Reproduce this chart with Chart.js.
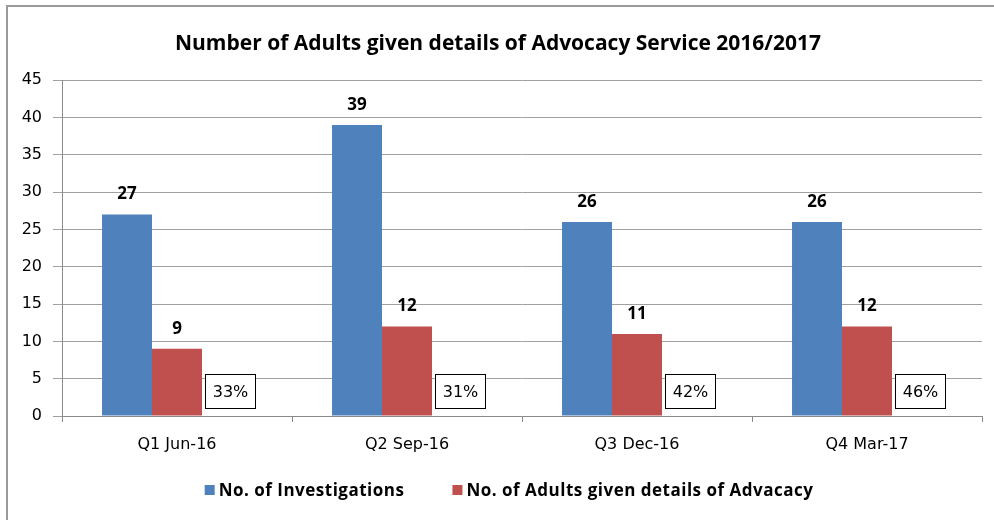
<!DOCTYPE html>
<html lang="en">
<head>
    <meta charset="UTF-8">
    <title>Advocacy Service 2016/2017</title>
    <script src="https://cdn.jsdelivr.net/npm/chart.js"></script>
    <style>
        html, body { margin: 0; padding: 0; background: #fff; overflow: hidden; }
        .wrap { position: relative; width: 994px; height: 520px; overflow: hidden; }
        .frame {
            position: absolute; left: 6px; top: 5px; width: 1100px; height: 700px;
            border: 2px solid #9a9a9a; box-sizing: border-box;
        }
        canvas { position: absolute; left: 0; top: 0; }
    </style>
</head>
<body>
    <div class="wrap">
        <div class="frame"></div>
        <canvas id="advocacyChart" width="994" height="520"></canvas>
    </div>

    <script>
        const categories = ["Q1 Jun-16", "Q2 Sep-16", "Q3 Dec-16", "Q4 Mar-17"];
        const investigations = [27, 39, 26, 26];
        const adultsGivenDetails = [9, 12, 11, 12];
        const percentGiven = [33, 31, 42, 46];   // adults given details / investigations
        const yMax = 45;
        const yStep = 5;

        const tickFamily = '"DejaVu Sans", Verdana, sans-serif';
        const labelFamily = '"Open Sans", sans-serif';
        const tickFont = { family: tickFamily, size: 16 };

        // bold figures above each bar
        const valueLabels = {
            id: "valueLabels",
            afterDatasetsDraw(chart) {
                const ctx = chart.ctx;
                ctx.save();
                ctx.font = "bold 17px " + labelFamily;
                ctx.fillStyle = "#000";
                ctx.textAlign = "center";
                ctx.textBaseline = "middle";
                [0, 1].forEach(i => {
                    const ds = chart.data.datasets[i];
                    chart.getDatasetMeta(i).data.forEach((bar, j) => {
                        ctx.fillText(ds.data[j], bar.x, bar.y - 20);
                    });
                });
                ctx.restore();
            }
        };

        // boxed percentage next to the red bar
        const percentBoxes = {
            id: "percentBoxes",
            afterDatasetsDraw(chart) {
                const ctx = chart.ctx;
                const base = chart.scales.y.getPixelForValue(0);
                ctx.save();
                ctx.font = "16px " + tickFamily;
                ctx.textAlign = "center";
                ctx.textBaseline = "middle";
                chart.getDatasetMeta(1).data.forEach((bar, j) => {
                    const left = Math.round(bar.x + bar.width / 2) + 3.5;
                    const bottom = Math.round(base) - 7.5;
                    const w = 50, h = 34;
                    ctx.fillStyle = "#fff";
                    ctx.fillRect(left, bottom - h, w, h);
                    ctx.strokeStyle = "#000";
                    ctx.lineWidth = 1;
                    ctx.strokeRect(left, bottom - h, w, h);
                    ctx.fillStyle = "#000";
                    ctx.fillText(percentGiven[j] + "%", left + w / 2, bottom - h / 2 + 1);
                });
                ctx.restore();
            }
        };

        // legend row under the axis: square swatch + bold label
        const bottomLegend = {
            id: "bottomLegend",
            afterDraw(chart) {
                const ctx = chart.ctx;
                const items = chart.data.datasets.slice(0, 2);
                const box = 10, gap = 4, spacing = 48;
                const y = 490;
                ctx.save();
                ctx.font = "bold 17px " + labelFamily;
                if ("letterSpacing" in ctx) ctx.letterSpacing = "0.5px";
                const widths = items.map(d => ctx.measureText(d.label).width);
                const total = widths.reduce((s, w) => s + box + gap + w, 0) + spacing * (items.length - 1);
                let x = 509 - total / 2;
                ctx.textBaseline = "middle";
                ctx.textAlign = "left";
                items.forEach((d, i) => {
                    ctx.fillStyle = d.backgroundColor;
                    ctx.fillRect(x, y - box / 2, box, box);
                    ctx.fillStyle = "#000";
                    ctx.fillText(d.label, x + box + gap, y + 1);
                    x += box + gap + widths[i] + spacing;
                });
                ctx.restore();
            }
        };

        new Chart(document.getElementById("advocacyChart"), {
            type: "bar",
            data: {
                labels: categories,
                datasets: [
                    {
                        label: "No. of Investigations",
                        data: investigations,
                        backgroundColor: "#4F81BD"
                    },
                    {
                        label: "No. of Adults given details of Advacacy",
                        data: adultsGivenDetails,
                        backgroundColor: "#C0504D"
                    },
                    {
                        // empty slot that holds the percentage label position
                        label: "pct",
                        data: categories.map(() => null),
                        backgroundColor: "rgba(0,0,0,0)"
                    }
                ]
            },
            options: {
                responsive: false,
                animation: false,
                layout: { padding: { top: 0, right: 12, bottom: 48, left: 14 } },
                datasets: {
                    bar: { categoryPercentage: 0.652, barPercentage: 1.0 }
                },
                scales: {
                    x: {
                        grid: {
                            offset: true,
                            drawOnChartArea: false,
                            drawTicks: true,
                            tickLength: 6,
                            color: "#8a8a8a"
                        },
                        border: { color: "#8a8a8a" },
                        ticks: { font: tickFont, color: "#000", padding: 13 },
                        afterFit(scale) { scale.height = 56; }
                    },
                    y: {
                        min: 0,
                        max: yMax,
                        ticks: { stepSize: yStep, font: tickFont, color: "#000", padding: 11 },
                        grid: { color: "#a0a0a0", tickLength: 9 },
                        border: { color: "#8a8a8a" },
                        afterFit(scale) { scale.width = 48; }
                    }
                },
                plugins: {
                    title: {
                        display: true,
                        text: "Number of Adults given details of Advocacy Service 2016/2017",
                        font: { family: labelFamily, size: 21, weight: "bold" },
                        color: "#000",
                        padding: { top: 31, bottom: 24 }
                    },
                    legend: { display: false },
                    tooltip: { enabled: false }
                }
            },
            plugins: [valueLabels, percentBoxes, bottomLegend]
        });
    </script>
</body>
</html>
